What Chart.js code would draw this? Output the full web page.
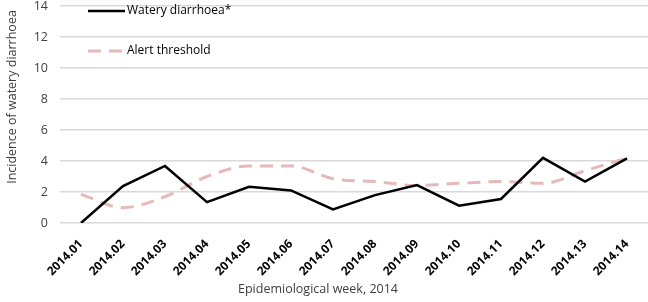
<!DOCTYPE html>
<html>
<head>
<meta charset="utf-8">
<script src="https://cdn.jsdelivr.net/npm/chart.js@4"></script>
<style>
  html, body { margin: 0; padding: 0; background: #fff; }
  #wrap { width: 648px; height: 302px; }
</style>
</head>
<body>
<div id="wrap"><canvas id="chart" width="648" height="302"></canvas></div>
<script>
// ---- DATA ----
const weeks = ['2014.01', '2014.02', '2014.03', '2014.04', '2014.05', '2014.06', '2014.07',
               '2014.08', '2014.09', '2014.10', '2014.11', '2014.12', '2014.13', '2014.14'];
const wateryDiarrhoea = [0, 2.38, 3.68, 1.35, 2.34, 2.1, 0.88, 1.8, 2.45, 1.12, 1.55, 4.2, 2.67, 4.17];
const alertThreshold  = [1.85, 0.99, 1.7, 3.0, 3.68, 3.68, 2.86, 2.67, 2.42, 2.56, 2.67, 2.56, 3.37, 4.2];
const yTicks = [0, 2, 4, 6, 8, 10, 12, 14];
const yTitle = 'Incidence of watery diarrhoea';
const xTitle = 'Epidemiological week, 2014';

const FONT = "'Open Sans', 'Liberation Sans', sans-serif";
const TEXT = '#404040';

// legend inside the plot (top-left) and the two axis titles
const extras = {
  id: 'extras',
  afterDraw(chart) {
    const c = chart.ctx;
    const left = chart.chartArea.left + 28;
    const rows = [11, 51];
    c.save();
    chart.data.datasets.forEach((ds, i) => {
      const y = rows[i];
      c.beginPath();
      c.strokeStyle = ds.borderColor;
      c.lineWidth = ds.borderWidth;
      c.setLineDash(ds.borderDash || []);
      c.moveTo(left, y);
      c.lineTo(left + 37, y);
      c.stroke();
      c.setLineDash([]);
      c.fillStyle = '#000';
      c.font = '12px ' + FONT;
      c.textBaseline = 'middle';
      c.fillText(ds.label, left + 39, y);
    });

    c.fillStyle = TEXT;
    c.font = '12.5px ' + FONT;
    c.textAlign = 'center';
    c.textBaseline = 'middle';
    c.fillText(xTitle, 318, 289);
    c.translate(12, 97);
    c.rotate(-Math.PI / 2);
    c.fillText(yTitle, 0, 0);
    c.restore();
  }
};

const ctx = document.getElementById('chart').getContext('2d');
new Chart(ctx, {
  type: 'line',
  data: {
    labels: weeks,
    datasets: [
      { label: 'Watery diarrhoea*', data: wateryDiarrhoea, borderColor: '#000000',
        borderWidth: 2.5, pointRadius: 0, tension: 0, fill: false },
      { label: 'Alert threshold', data: alertThreshold, borderColor: '#e6b9b8',
        borderWidth: 3, borderDash: [13, 8], pointRadius: 0,
        cubicInterpolationMode: 'monotone', fill: false }
    ]
  },
  options: {
    responsive: false,
    animation: false,
    layout: { padding: 0 },
    plugins: { legend: { display: false }, tooltip: { enabled: false } },
    scales: {
      x: {
        offset: true,
        grid: { display: false },
        border: { display: false },
        ticks: { color: '#000', font: { family: FONT, size: 12, weight: 'bold' },
                 minRotation: 45, maxRotation: 45, padding: 6 },
        afterFit(scale) { scale.height = 79; }
      },
      y: {
        min: 0, max: 14,
        afterBuildTicks(scale) { scale.ticks = yTicks.map(v => ({ value: v })); },
        grid: { color: '#d9d9d9', lineWidth: 1.5, drawTicks: true, tickLength: 12,
                tickColor: 'rgba(0,0,0,0)' },
        border: { display: false },
        ticks: { color: TEXT, font: { family: FONT, size: 12.5, lineHeight: 0.96 }, padding: 0 },
        afterFit(scale) { scale.width = 60; }
      }
    }
  },
  plugins: [extras]
});
</script>
</body>
</html>
